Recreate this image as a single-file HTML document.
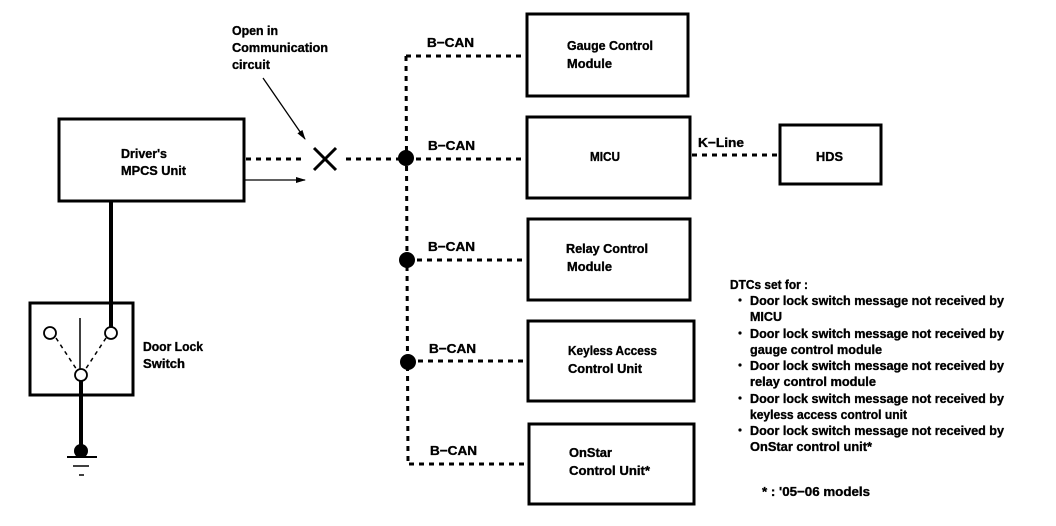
<!DOCTYPE html>
<html><head><meta charset="utf-8"><style>
html,body{margin:0;padding:0;background:#fff;}
svg{display:block;}
text{font-family:"Liberation Sans",Arial,sans-serif;font-weight:bold;font-size:13px;fill:#000;stroke:#000;stroke-width:0.35;}
</style></head><body>
<svg width="1056" height="526" viewBox="0 0 1056 526" xmlns="http://www.w3.org/2000/svg">
<defs>
<marker id="ah" markerWidth="10" markerHeight="6" refX="9" refY="3" orient="auto" markerUnits="userSpaceOnUse">
<path d="M0,0 L10,3 L0,6 z" fill="#000"/>
</marker>
</defs>
<g fill="none" stroke="#000" stroke-width="3">
<rect x="59" y="119" width="185" height="82"/>
<rect x="30" y="303" width="103" height="92"/>
<rect x="527" y="14" width="161" height="82"/>
<rect x="527" y="117" width="163" height="81"/>
<rect x="528" y="219" width="162" height="81"/>
<rect x="528" y="321" width="166" height="80"/>
<rect x="529" y="424" width="165" height="80"/>
<rect x="780" y="125" width="101" height="59"/>
</g>
<g fill="none" stroke="#000" stroke-width="3" stroke-dasharray="5,5">
<line x1="246" y1="159" x2="305" y2="159"/>
<line x1="346" y1="159" x2="526" y2="159"/>
<line x1="406" y1="56" x2="526" y2="56"/>
<line x1="407" y1="260" x2="526" y2="260"/>
<line x1="408" y1="361" x2="526" y2="361"/>
<line x1="409" y1="464" x2="527" y2="464"/>
<line x1="406" y1="56" x2="408" y2="464"/>
<line x1="692" y1="155" x2="779" y2="155"/>
</g>
<g fill="#000">
<circle cx="406" cy="158" r="8"/>
<circle cx="407" cy="260" r="8"/>
<circle cx="408" cy="362" r="8"/>
<circle cx="81" cy="451" r="7"/>
</g>
<g stroke="#000" stroke-width="3">
<line x1="314" y1="148" x2="336" y2="170"/>
<line x1="336" y1="148" x2="314" y2="170"/>
</g>
<line x1="245" y1="180" x2="305" y2="180" stroke="#000" stroke-width="1.3" marker-end="url(#ah)"/>
<line x1="263" y1="78" x2="305" y2="139" stroke="#000" stroke-width="1.3" marker-end="url(#ah)"/>
<line x1="111" y1="201" x2="111" y2="327" stroke="#000" stroke-width="4"/>
<line x1="80" y1="318" x2="80" y2="369" stroke="#000" stroke-width="1.5"/>
<g stroke="#000" stroke-width="1.5" stroke-dasharray="4,4">
<line x1="56" y1="338" x2="77" y2="370"/>
<line x1="106" y1="338" x2="85" y2="370"/>
</g>
<line x1="81" y1="381" x2="81" y2="450" stroke="#000" stroke-width="4"/>
<line x1="67" y1="457" x2="97" y2="457" stroke="#000" stroke-width="2"/>
<line x1="73" y1="466" x2="89" y2="466" stroke="#000" stroke-width="1.5"/>
<line x1="79" y1="475" x2="84" y2="475" stroke="#000" stroke-width="1.5"/>
<g fill="#fff" stroke="#000" stroke-width="1.8">
<circle cx="50" cy="333" r="6"/>
<circle cx="111" cy="333" r="6"/>
<circle cx="81" cy="375" r="6"/>
</g>
<text x="232" y="35" textLength="46" lengthAdjust="spacingAndGlyphs">Open in</text>
<text x="232" y="52" textLength="96" lengthAdjust="spacingAndGlyphs">Communication</text>
<text x="232" y="69" textLength="38" lengthAdjust="spacingAndGlyphs">circuit</text>
<text x="121" y="158" textLength="46" lengthAdjust="spacingAndGlyphs">Driver's</text>
<text x="121" y="175" textLength="65" lengthAdjust="spacingAndGlyphs">MPCS Unit</text>
<text x="143" y="351" textLength="60" lengthAdjust="spacingAndGlyphs">Door Lock</text>
<text x="143" y="368" textLength="42" lengthAdjust="spacingAndGlyphs">Switch</text>
<text x="427" y="47" textLength="47" lengthAdjust="spacingAndGlyphs">B−CAN</text>
<text x="428" y="150" textLength="47" lengthAdjust="spacingAndGlyphs">B−CAN</text>
<text x="428" y="251" textLength="47" lengthAdjust="spacingAndGlyphs">B−CAN</text>
<text x="429" y="353" textLength="47" lengthAdjust="spacingAndGlyphs">B−CAN</text>
<text x="430" y="455" textLength="47" lengthAdjust="spacingAndGlyphs">B−CAN</text>
<text x="698" y="147" textLength="46" lengthAdjust="spacingAndGlyphs">K−Line</text>
<text x="567" y="50" textLength="86" lengthAdjust="spacingAndGlyphs">Gauge Control</text>
<text x="567" y="68" textLength="45" lengthAdjust="spacingAndGlyphs">Module</text>
<text x="590" y="161" textLength="30" lengthAdjust="spacingAndGlyphs">MICU</text>
<text x="566" y="253" textLength="82" lengthAdjust="spacingAndGlyphs">Relay Control</text>
<text x="567" y="271" textLength="45" lengthAdjust="spacingAndGlyphs">Module</text>
<text x="568" y="355" textLength="89" lengthAdjust="spacingAndGlyphs">Keyless Access</text>
<text x="568" y="373" textLength="74" lengthAdjust="spacingAndGlyphs">Control Unit</text>
<text x="569" y="457" textLength="43" lengthAdjust="spacingAndGlyphs">OnStar</text>
<text x="569" y="475" textLength="81" lengthAdjust="spacingAndGlyphs">Control Unit*</text>
<text x="816" y="161" textLength="27" lengthAdjust="spacingAndGlyphs">HDS</text>
<text x="730" y="289" textLength="78" lengthAdjust="spacingAndGlyphs">DTCs set for :</text>
<g>
<circle cx="740" cy="300" r="1.6" fill="#000"/>
<circle cx="740" cy="333" r="1.6" fill="#000"/>
<circle cx="740" cy="365" r="1.6" fill="#000"/>
<circle cx="740" cy="398" r="1.6" fill="#000"/>
<circle cx="740" cy="430" r="1.6" fill="#000"/>
</g>
<text x="750" y="305" textLength="254" lengthAdjust="spacingAndGlyphs">Door lock switch message not received by</text>
<text x="750" y="321" textLength="32" lengthAdjust="spacingAndGlyphs">MICU</text>
<text x="750" y="338" textLength="254" lengthAdjust="spacingAndGlyphs">Door lock switch message not received by</text>
<text x="750" y="354" textLength="132" lengthAdjust="spacingAndGlyphs">gauge control module</text>
<text x="750" y="370" textLength="254" lengthAdjust="spacingAndGlyphs">Door lock switch message not received by</text>
<text x="750" y="386" textLength="126" lengthAdjust="spacingAndGlyphs">relay control module</text>
<text x="750" y="403" textLength="254" lengthAdjust="spacingAndGlyphs">Door lock switch message not received by</text>
<text x="750" y="419" textLength="157" lengthAdjust="spacingAndGlyphs">keyless access control unit</text>
<text x="750" y="435" textLength="254" lengthAdjust="spacingAndGlyphs">Door lock switch message not received by</text>
<text x="750" y="451" textLength="122" lengthAdjust="spacingAndGlyphs">OnStar control unit*</text>
<text x="762" y="496" textLength="108" lengthAdjust="spacingAndGlyphs">* : '05−06 models</text>
</svg>
</body></html>
